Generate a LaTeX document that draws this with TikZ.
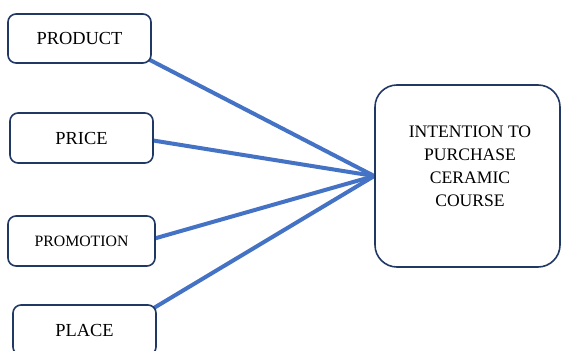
\documentclass[tikz,border=0pt]{standalone}
\usepackage{fontspec}
\setmainfont{Liberation Serif}
\usetikzlibrary{calc,backgrounds}
\definecolor{boxborder}{HTML}{203864}
\definecolor{linkblue}{HTML}{4472C4}
\begin{document}
\begin{tikzpicture}[x=1pt,y=-1pt,
  smallbox/.style={draw=boxborder,line width=1.6pt,rounded corners=8pt,fill=white,
    minimum width=143pt,minimum height=49pt,inner sep=0pt,
    font=\fontsize{18.4}{22}\selectfont},
  bigbox/.style={draw=boxborder,line width=1.6pt,rounded corners=22pt,fill=white,
    minimum width=185pt,minimum height=182pt,inner sep=0pt},
  link/.style={draw=linkblue,line width=4pt}]
\useasboundingbox (0,0) rectangle (561,350);
\node[smallbox] (product) at (79.5,38.5) {PRODUCT};
\node[smallbox,minimum height=50pt] (price) at (81.5,138) {PRICE};
\node[smallbox,minimum width=147pt,minimum height=50pt,font=\fontsize{15.8}{19}\selectfont] (promotion) at (81.5,241) {PROMOTION};
\node[smallbox,minimum height=50pt] (place) at (84.5,330) {PLACE};
\node[bigbox] (target) at (467.5,176) {};
\node[align=center,font=\fontsize{17.6}{23}\selectfont] (targettext) at (470,166) {INTENTION TO\\PURCHASE\\CERAMIC\\COURSE};
\begin{scope}[on background layer]
\draw[link] ($(product.south east)+(-10,-8)$) -- (target.west);
\draw[link] ($(price.east)+(-10,1)$) -- (target.west);
\draw[link] ($(promotion.east)+(-10,0)$) -- (target.west);
\draw[link] ($(place.north east)+(-10,8)$) -- (target.west);
\end{scope}
\end{tikzpicture}
\end{document}
